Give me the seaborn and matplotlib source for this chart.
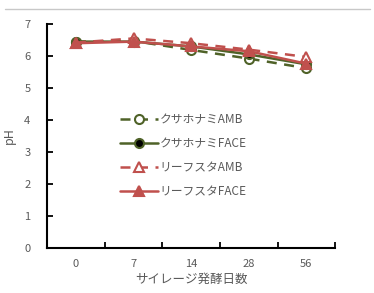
import numpy as np
import pandas as pd
import matplotlib.pyplot as plt
import seaborn as sns
from matplotlib.lines import Line2D

days = ["0", "7", "14", "28", "56"]
kusa_amb = [6.45, 6.47, 6.19, 5.92, 5.62]
kusa_face = [6.45, 6.45, 6.30, 6.05, 5.74]
leaf_amb = [6.42, 6.55, 6.40, 6.20, 5.97]
leaf_face = [6.40, 6.45, 6.30, 6.15, 5.76]
names = ["クサホナミAMB", "クサホナミFACE", "リーフスタAMB", "リーフスタFACE"]

sns.set_style("white")
plt.rcParams['font.family'] = ['Noto Sans CJK JP', 'DejaVu Sans']
plt.rcParams['ytick.left'] = True
plt.rcParams['xtick.bottom'] = True

green = "#4f6228"
red = "#c0504d"
styles = [
    dict(color=green, linestyle=(0, (4, 3)), marker="o", markerfacecolor="white", markeredgecolor=green),
    dict(color=green, linestyle="-", marker="o", markerfacecolor="black", markeredgecolor=green),
    dict(color=red, linestyle=(0, (4, 3)), marker="^", markerfacecolor="white", markeredgecolor=red),
    dict(color=red, linestyle="-", marker="^", markerfacecolor=red, markeredgecolor=red),
]

fig = plt.figure(figsize=(3.74, 2.93), dpi=100)
ax = fig.add_axes([0.126, 0.154, 0.77, 0.764])

x = np.arange(len(days))
for name, vals, st in zip(names, [kusa_amb, kusa_face, leaf_amb, leaf_face], styles):
    df = pd.DataFrame({"day": x, "pH": vals})
    sns.lineplot(data=df, x="day", y="pH", ax=ax, label=name, linewidth=1.8,
                 markersize=6.5, markeredgewidth=1.5, **st)

ax.set_xlim(-0.5, 4.5)
ax.set_ylim(0, 7)
ax.set_xticks(x)
ax.set_xticklabels(days)
ax.set_xticks(np.arange(-0.5, 5, 1), minor=True)
ax.set_yticks(range(0, 8))
ax.tick_params(axis="x", which="major", length=0, pad=8, labelsize=8, colors="#595959")
ax.tick_params(axis="x", which="minor", bottom=True, direction="in", length=4, width=1.3, color="black")
ax.tick_params(axis="y", which="major", left=True, direction="in", length=4, width=1.3, color="black",
               labelsize=8, labelcolor="#595959", pad=12)
for s in ["top", "right"]:
    ax.spines[s].set_visible(False)
for s in ["left", "bottom"]:
    ax.spines[s].set_linewidth(1.5)
    ax.spines[s].set_color("black")

ax.set_xlabel("サイレージ発酵日数", fontsize=9, color="#595959", labelpad=3)
ax.set_ylabel("pH", fontsize=9, color="#595959", labelpad=6)

leg = ax.legend(loc="upper left", bbox_to_anchor=(0.235, 0.625), frameon=False, fontsize=8.5,
                handlelength=3.3, labelspacing=0.95, handletextpad=0.1, borderaxespad=0)
for t in leg.get_texts():
    t.set_color("#595959")

fig.add_artist(Line2D([0.013, 0.99], [0.969, 0.969], color="#c8c8c8", linewidth=1))

fig.savefig("out.png", dpi=100)
